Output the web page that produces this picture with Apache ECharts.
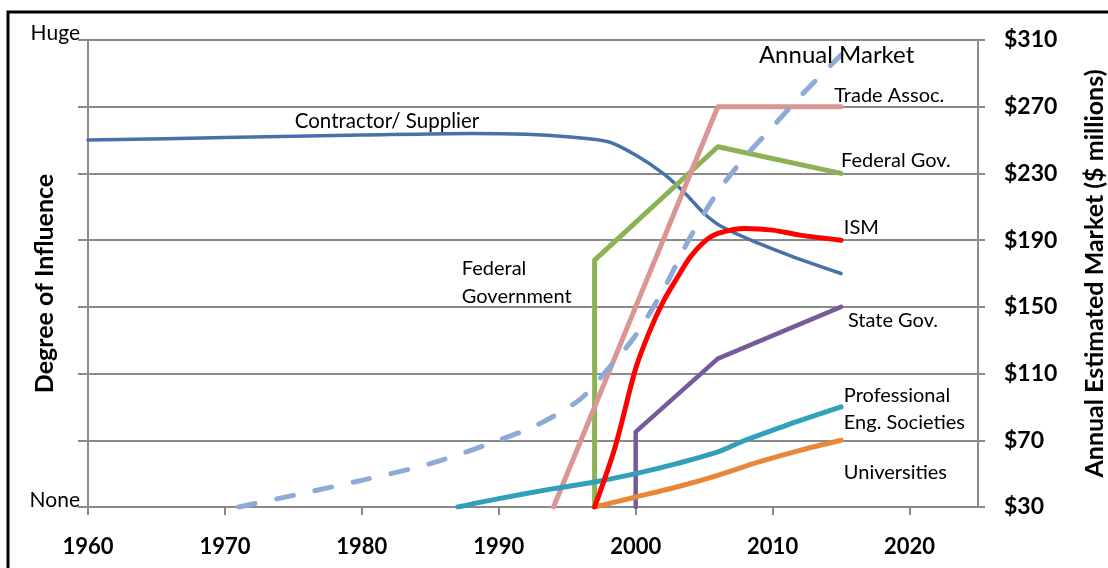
<!DOCTYPE html>
<html><head><meta charset="utf-8">
<script src="https://cdn.jsdelivr.net/npm/echarts@6/dist/echarts.min.js"></script>
<style>html,body{margin:0;padding:0;background:#fff}#c{width:1108px;height:568px}</style>
</head><body><div id="c"></div>
<script>
// ---- data ----
const xTicks = [1960, 1970, 1980, 1990, 2000, 2010, 2020];
const rightTickLabels = ['$30', '$70', '$110', '$150', '$190', '$230', '$270', '$310'];
const leftTickLabels = ['None', '', '', '', '', '', '', 'Huge'];

const contractorYears  = [1960, 1970, 1980, 1988, 1992, 1995, 1998, 2000, 2002, 2003.5, 2005, 2006.3, 2009, 2011.5, 2015];
const contractorValues = [250, 251.5, 253, 254, 253.5, 252, 249, 241, 230, 219, 206, 198, 188, 180, 170];

const marketYears  = [1971, 1975, 1980, 1985, 1990, 1993, 1996, 1998, 2000, 2002, 2004, 2006, 2008, 2010, 2012, 2015];
const marketValues = [30, 37, 46, 56, 70, 80, 95, 113, 133, 160, 192, 219, 240, 258, 276, 301];

const tradeYears  = [1994, 2006, 2015];
const tradeValues = [30, 270, 270];

const fedYears  = [1997, 1997, 2006, 2015];
const fedValues = [30, 178, 246, 230];

const ismYears  = [1997, 1998.5, 2000, 2001, 2002, 2003, 2004, 2005, 2006, 2008, 2010, 2012, 2015];
const ismValues = [30, 66, 113, 135, 153, 167, 180, 189, 194, 197, 196, 193, 190];

const stateYears  = [2000, 2000, 2006, 2015];
const stateValues = [30, 75, 119, 150];

const profYears  = [1987, 1990, 1994, 1997, 2000, 2003, 2006, 2008, 2011, 2015];
const profValues = [30, 35, 41, 45, 50, 56, 63, 70, 79, 90];

const univYears  = [1997, 2000, 2003, 2006, 2009, 2012, 2015];
const univValues = [30, 36, 42, 49, 57, 64, 70];

const labelTexts = ['Contractor/ Supplier', 'Annual Market', 'Trade Assoc.', 'Federal Gov.', 'ISM',
  'State Gov.', 'Professional\nEng. Societies', 'Universities', 'Federal\nGovernment'];

// ---- build ----
const zip = (xs, ys) => xs.map((x, i) => [x, ys[i]]);
const FONT = 'Lato';

function lineSeries(name, xs, ys, color, width, smooth, extra) {
  return Object.assign({
    name, type: 'line', data: zip(xs, ys), showSymbol: false, symbol: 'none',
    smooth: smooth ? 0.3 : false,
    lineStyle: { color, width, cap: 'round', join: 'round' }, z: 3
  }, extra || {});
}

// annotation anchors (data coordinates of text left-middle)
const labelAnchors = [[1975.1, 261.4], [2009.0, 301], [2014.5, 276.4], [2015.0, 238], [2015.2, 197.8],
  [2015.5, 142], [2015.2, 89], [2015.2, 50.8], [1987.3, 164.8]];
const labelSizes = [20.5, 24, 20, 20, 20, 20, 20, 20, 20];
const labelLineHeights = [24, 28, 24, 24, 24, 24, 27, 24, 28];

const gridColor = '#8a8a8a';

const option = {
  animation: false,
  backgroundColor: '#fff',
  grid: { left: 88, right: 130, top: 40, bottom: 61, containLabel: false, outerBoundsMode: 'none' },
  xAxis: {
    type: 'value', min: 1960, max: 2025, interval: 10,
    axisLine: { show: true, lineStyle: { color: gridColor, width: 2 } },
    axisTick: { show: true, customValues: xTicks, length: 8, lineStyle: { color: gridColor, width: 2 } },
    axisLabel: { customValues: xTicks, formatter: v => String(v), margin: 29,
      color: '#000', fontFamily: FONT, fontWeight: 'bold', fontSize: 22 },
    splitLine: { show: false }
  },
  yAxis: [
    {
      type: 'value', position: 'left', min: 30, max: 310, interval: 40,
      name: 'Degree of Influence', nameLocation: 'middle', nameGap: 31, nameRotate: 90,
      nameMoveOverlap: false,
      nameTextStyle: { color: '#000', fontFamily: FONT, fontWeight: 'bold', fontSize: 25, padding: [0, 20, 0, 0] },
      axisLine: { show: true, lineStyle: { color: gridColor, width: 2 } },
      axisTick: { show: true, length: 10, lineStyle: { color: gridColor, width: 2 } },
      axisLabel: {
        margin: 8, color: '#000', fontFamily: FONT, fontSize: 21,
        verticalAlign: 'bottom', lineHeight: 14,
        formatter: v => leftTickLabels[Math.round((v - 30) / 40)] || ''
      },
      splitLine: { show: true, lineStyle: { color: gridColor, width: 2 } }
    },
    {
      type: 'value', position: 'right', min: 30, max: 310, interval: 40,
      name: 'Annual Estimated Market ($ millions)', nameLocation: 'middle', nameGap: 104, nameRotate: 90,
      nameMoveOverlap: false,
      nameTextStyle: { color: '#000', fontFamily: FONT, fontWeight: 'bold', fontSize: 25 },
      axisLine: { show: true, lineStyle: { color: gridColor, width: 2 } },
      axisTick: { show: true, length: 7, lineStyle: { color: gridColor, width: 2 } },
      axisLabel: {
        margin: 26, color: '#000', fontFamily: FONT, fontWeight: 'bold', fontSize: 23,
        formatter: v => rightTickLabels[Math.round((v - 30) / 40)] || ''
      },
      splitLine: { show: false }
    }
  ],
  series: [
    lineSeries('Contractor/ Supplier', contractorYears, contractorValues, '#4672a8', 3.5, true),
    lineSeries('Federal Gov.', fedYears, fedValues, '#8db255', 5, false),
    lineSeries('Trade Assoc.', tradeYears, tradeValues, '#d99694', 5, false),
    lineSeries('State Gov.', stateYears, stateValues, '#775a9a', 4.5, false),
    lineSeries('Professional Eng. Societies', profYears, profValues, '#31a0b8', 5, true),
    lineSeries('Universities', univYears, univValues, '#e8873a', 5, true),
    lineSeries('ISM', ismYears, ismValues, '#ff0000', 5, true),
    lineSeries('Annual Market', marketYears, marketValues, '#8eaad6', 5, true,
      { lineStyle: { color: '#8eaad6', width: 5, type: [17, 22], cap: 'round' }, z: 4 })
  ]
};

const chart = echarts.init(document.getElementById('c'), null, { renderer: 'canvas' });
chart.setOption(option);

// annotations placed through the chart's own scales
const texts = labelAnchors.map((p, i) => {
  const px = chart.convertToPixel({ gridIndex: 0 }, p);
  return {
    type: 'text', silent: true, z: 50, x: px[0], y: px[1],
    style: { text: labelTexts[i], fill: '#000', fontFamily: FONT, fontSize: labelSizes[i],
      lineHeight: labelLineHeights[i], align: 'left', verticalAlign: 'middle' }
  };
});
texts.push({
  type: 'rect', silent: true, z: 100,
  shape: { x: 8, y: 12, width: 1300, height: 800 },
  style: { fill: 'none', stroke: '#000', lineWidth: 3 }
});
chart.setOption({ graphic: texts });
</script>
</body></html>
